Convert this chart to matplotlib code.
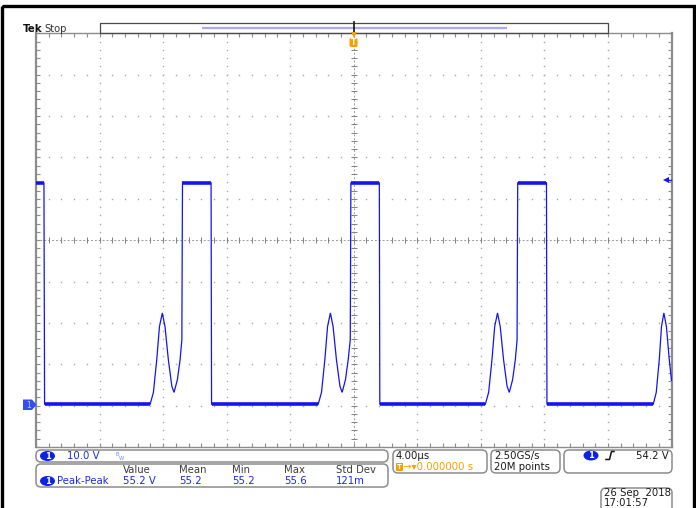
"""Tek scope screen capture: channel 1 switching waveform, 10 V/div, 4 us/div."""

import matplotlib

matplotlib.use("Agg")
import matplotlib.pyplot as plt
from matplotlib.patches import Ellipse, FancyBboxPatch, Polygon, Rectangle

# scope settings
US_PER_DIV = 4.0
VOLTS_PER_DIV = 10.0
N_DIV = 10
GROUND_DIV = -3.97  # channel 1 ground marker, divisions below centre
TRIGGER_LEVEL = 54.2

# channel 1 trace (time in us, volts)
trace_t = [
    -20.0, -19.50, -19.46,
    -12.82, -12.61, -12.40, -12.23, -12.05, -11.88, -11.67, -11.45, -11.31,
    -11.10, -10.93, -10.82, -10.78, -8.98, -8.95,
    -2.24, -2.03, -1.82, -1.65, -1.47, -1.30, -1.09, -0.87, -0.73,
    -0.52, -0.35, -0.22, -0.18, 1.61, 1.64,
    8.28, 8.49, 8.70, 8.87, 9.05, 9.22, 9.43, 9.65, 9.79,
    10.00, 10.17, 10.28, 10.32, 12.13, 12.16,
    18.85, 19.04, 19.23, 19.37, 19.52, 19.68, 19.86, 20.0,
]
trace_v = [
    53.6, 53.6, 0.0,
    0.0, 2.9, 10.8, 18.8, 22.1, 18.8, 10.8, 4.4, 2.9,
    6.0, 10.8, 15.6, 53.6, 53.6, 0.0,
    0.0, 2.9, 10.8, 18.8, 22.1, 18.8, 10.8, 4.4, 2.9,
    6.0, 10.8, 15.6, 53.6, 53.6, 0.0,
    0.0, 2.9, 10.8, 18.8, 22.1, 18.8, 10.8, 4.4, 2.9,
    6.0, 10.8, 15.6, 53.6, 53.6, 0.0,
    0.0, 2.9, 10.8, 18.8, 22.1, 18.8, 10.8, 5.8,
]

# readouts
meas_headers = ["Value", "Mean", "Min", "Max", "Std Dev"]
meas_values = ["55.2 V", "55.2", "55.2", "55.6", "121m"]
meas_name = "Peak-Peak"
ch_scale = "10.0 V"
timebase = "4.00µs"
trig_pos = "0.000000 s"
sample_rate = ["2.50GS/s", "20M points"]
trig_readout = "54.2 V"
stamp = ["26 Sep  2018", "17:01:57"]

W, H = 696, 508
BLUE = "#1414f0"
TEXT_BLUE = "#1a2ae6"
ORANGE = "#f5a000"
GRID = "#a6a6a6"
EDGE = "#8c8c8c"

fig = plt.figure(figsize=(W / 100, H / 100), dpi=100)
fig.patch.set_facecolor("white")

# graticule area in pixels
g_left, g_top, g_right, g_bottom = 36, 33.3, 671.5, 447
ax = fig.add_axes([g_left / W, 1 - g_bottom / H, (g_right - g_left) / W, (g_bottom - g_top) / H])

t_half = US_PER_DIV * N_DIV / 2
v_bottom = (-N_DIV / 2 - GROUND_DIV) * VOLTS_PER_DIV
v_top = v_bottom + N_DIV * VOLTS_PER_DIV
ax.set_xlim(-t_half, t_half)
ax.set_ylim(v_bottom, v_top)

x_major = [-t_half + i * US_PER_DIV for i in range(N_DIV + 1)]
y_major = [v_bottom + i * VOLTS_PER_DIV for i in range(N_DIV + 1)]
x_minor = [-t_half + i * US_PER_DIV / 5 for i in range(N_DIV * 5 + 1)]
y_minor = [v_bottom + i * VOLTS_PER_DIV / 5 for i in range(N_DIV * 5 + 1)]

ax.set_xticks(x_major)
ax.set_xticks(x_minor, minor=True)
ax.set_yticks(y_major)
ax.set_yticks(y_minor, minor=True)
ax.tick_params(which="both", direction="in", length=3, width=0.8, color=EDGE,
               top=True, right=True, labelbottom=False, labelleft=False)
for side, sp in ax.spines.items():
    sp.set_color(EDGE)
    sp.set_linewidth(1.6 if side in ("left", "right") else 1.0)

# dotted graticule
x_c = x_major[N_DIV // 2]
y_c = y_major[N_DIV // 2]
for xm in x_major[1:-1]:
    if xm == x_c:
        continue
    ax.plot([xm] * len(y_minor), y_minor, ls="none", marker="s", ms=1.0, mew=0,
            color=GRID, zorder=1)
for ym in y_major[1:-1]:
    if ym == y_c:
        continue
    ax.plot(x_minor, [ym] * len(x_minor), ls="none", marker="s", ms=1.0, mew=0,
            color=GRID, zorder=1)

# centre cross-hair with minor ticks
ax.axhline(y_c, color="#9a9a9a", lw=0.7, ls=(0, (2, 2)), zorder=1)
ax.axvline(x_c, color="#9a9a9a", lw=0.7, ls=(0, (2, 2)), zorder=1)
ax.plot(x_minor, [y_c] * len(x_minor), ls="none", marker="|", ms=4, mew=0.7,
        color="#808080", zorder=1)
ax.plot([x_c] * len(y_minor), y_minor, ls="none", marker="_", ms=4, mew=0.7,
        color="#808080", zorder=1)

# trace: thin edges, noisy looking plateaus
ax.plot(trace_t, trace_v, color=BLUE, lw=0.9, zorder=3, solid_joinstyle="miter")
for i in range(len(trace_t) - 1):
    if trace_v[i] == trace_v[i + 1]:
        ax.plot(trace_t[i:i + 2], trace_v[i:i + 2], color=BLUE, lw=2.6,
                solid_capstyle="butt", zorder=3)

# trigger level arrow just inside the right edge
ax.plot([t_half - 0.3, t_half - 0.05], [TRIGGER_LEVEL] * 2, color=BLUE, lw=1.0,
        zorder=4, clip_on=False)
ax.plot([t_half - 0.33], [TRIGGER_LEVEL], marker="<", ms=3.8, mew=0, color=BLUE,
        zorder=4, clip_on=False)

# overlay in pixel coordinates for the screen furniture
ov = fig.add_axes([0, 0, 1, 1], zorder=5)
ov.set_xlim(0, W)
ov.set_ylim(H, 0)
ov.axis("off")
ov.patch.set_alpha(0)

ov.add_patch(Rectangle((2, 6), 692, 510, fill=False, ec="black", lw=2.4))

ov.text(23, 28.5, "Tek", fontsize=7.4, fontweight="bold", color="#111111", va="center")
ov.text(44, 28.5, "Stop", fontsize=7.2, color="#333333", va="center")

# record view
ov.add_patch(Rectangle((100, 23), 508, 10, fill=False, ec="#4a4a4a", lw=0.9))
ov.plot([202, 507], [27.5, 27.5], color="#a8a8f4", lw=1.6, solid_capstyle="butt")
ov.plot([353.5, 353.5], [22, 34], color="#222222", lw=1.3)
ov.plot([353.5], [34.5], marker="v", ms=4.5, color=ORANGE, mew=0)
ov.add_patch(FancyBboxPatch((349.5, 38), 8, 9, boxstyle="round,pad=0,rounding_size=1.5",
                            fc=ORANGE, ec="none"))
ov.text(353.5, 42.8, "T", fontsize=5.5, fontweight="bold", color="white",
        ha="center", va="center")

# ground marker
ov.add_patch(Polygon([(23, 399.5), (32, 399.5), (36.5, 404.7), (32, 410), (23, 410)],
                     closed=True, fc="#3050f5", ec="none"))
ov.text(28.5, 405, "1", fontsize=5.5, color="#c8d4ff", ha="center", va="center")


def box(x0, y0, x1, y1):
    ov.add_patch(FancyBboxPatch((x0, y0), x1 - x0, y1 - y0,
                                boxstyle="round,pad=0,rounding_size=5",
                                fc="none", ec=EDGE, lw=1.1))


def badge(x, y):
    ov.add_patch(Ellipse((x, y), 15, 10, fc="#0c22e8", ec="none"))
    ov.text(x, y + 0.3, "1", fontsize=6, fontweight="bold", color="white",
            ha="center", va="center")


fs = 7.3
# channel readout
box(36, 450, 388, 462)
badge(47.5, 456)
ov.text(67, 456.3, ch_scale, fontsize=fs, color=TEXT_BLUE, va="center")
ov.text(115.5, 454, "B", fontsize=3.8, color="#7088ff", va="center")
ov.text(118.5, 458, "W", fontsize=3.8, color="#7088ff", va="center")

# measurement readout
box(36, 464, 388, 487)
col_x = [123, 179, 232, 284, 336]
for x, head, val in zip(col_x, meas_headers, meas_values):
    ov.text(x, 470.3, head, fontsize=fs, color="#3c3c3c", va="center")
    ov.text(x, 481.3, val, fontsize=fs, color=TEXT_BLUE, va="center")
badge(47.5, 481)
ov.text(57.5, 481.3, meas_name, fontsize=fs, color=TEXT_BLUE, va="center")

# horizontal readout
box(393, 450, 487, 473)
ov.text(396, 456.3, timebase, fontsize=fs, color="#1a1a1a", va="center")
ov.add_patch(Rectangle((395.5, 463), 7, 8, fc=ORANGE, ec="none"))
ov.text(399, 467.2, "T", fontsize=5, fontweight="bold", color="white", ha="center", va="center")
ov.text(403, 467.3, "→▾" + trig_pos, fontsize=fs, color=ORANGE, va="center")

# acquisition readout
box(491, 450, 560, 473)
ov.text(494, 456.3, sample_rate[0], fontsize=fs, color="#1a1a1a", va="center")
ov.text(494, 467.3, sample_rate[1], fontsize=fs, color="#1a1a1a", va="center")

# trigger readout
box(564, 450, 672, 473)
badge(591, 455.5)
ov.plot([606, 609.5, 611.5, 614], [459.5, 459.5, 451.5, 451.5], color="#111111", lw=1.1)
ov.text(669, 455.8, trig_readout, fontsize=fs, color="#1a1a1a", ha="right", va="center")

# date stamp
box(601, 488, 672, 515)
ov.text(604, 493.5, stamp[0], fontsize=fs, color="#1a1a1a", va="center")
ov.text(604, 503.5, stamp[1], fontsize=fs, color="#1a1a1a", va="center")

fig.savefig("out.png", dpi=100, facecolor="white")
